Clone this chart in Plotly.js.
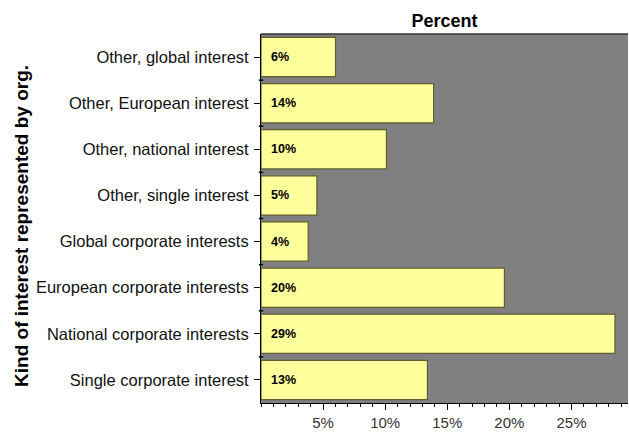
<!DOCTYPE html>
<html>
<head>
<meta charset="utf-8">
<script src="https://cdn.plot.ly/plotly-3.0.1.min.js"></script>
<style>html,body{margin:0;padding:0;background:#fff;}#chart{width:629px;height:432px;}</style>
</head>
<body>
<div id="chart"></div>
<script>
const categories = [
  "Single corporate interest",
  "National corporate interests",
  "European corporate interests",
  "Global corporate interests",
  "Other, single interest",
  "Other, national interest",
  "Other, European interest",
  "Other, global interest"
];
const values = [13.4, 28.5, 19.6, 3.8, 4.5, 10.1, 13.9, 6.0];
const valueLabels = ["13%", "29%", "20%", "4%", "5%", "10%", "14%", "6%"];
const xTickVals = [5, 10, 15, 20, 25];
const xTickText = ["5%", "10%", "15%", "20%", "25%"];

const font = "Liberation Sans, Arial, sans-serif";

const trace = {
  type: "bar",
  orientation: "h",
  y: categories,
  x: values,
  width: 0.85,
  marker: { color: "#FFFF9C", line: { color: "#5E5E2E", width: 1.2 } },
  hoverinfo: "skip",
  showlegend: false
};

const annotations = categories.map((c, i) => ({
  x: 0, y: c, xref: "x", yref: "y",
  text: "<b>" + valueLabels[i] + "</b>",
  showarrow: false, xanchor: "left", xshift: 8,
  font: { family: font, size: 12.5, color: "#000" }
}));
annotations.push({
  xref: "paper", yref: "paper", x: -0.651, y: 0.48,
  xanchor: "center", yanchor: "middle",
  text: "<b>Kind of interest represented by org.</b>",
  textangle: -90, showarrow: false,
  font: { family: font, size: 19, color: "#000" }
});

const layout = {
  width: 629, height: 432,
  margin: { l: 261, r: 1, t: 34, b: 29 },
  paper_bgcolor: "#fff",
  plot_bgcolor: "#808080",
  title: {
    text: "<b>Percent</b>",
    x: 0.5, xanchor: "center", xref: "paper",
    y: 0.953, yanchor: "middle",
    font: { family: font, size: 18, color: "#000" }
  },
  bargap: 0.15,
  xaxis: {
    range: [0, 29.55],
    tickvals: xTickVals, ticktext: xTickText,
    ticks: "outside", ticklen: 6, tickcolor: "#000", tickwidth: 1,
    showgrid: false, zeroline: false,
    showline: true, linecolor: "#000", linewidth: 1,
    tickfont: { family: font, size: 15, color: "#333" },
    minor: { dtick: 1, tick0: 0, ticks: "outside", ticklen: 3, tickcolor: "#000", showgrid: false },
    fixedrange: true
  },
  yaxis: {
    type: "category",
    categoryorder: "array", categoryarray: categories,
    ticks: "outside", ticklen: 6, tickcolor: "#000", tickwidth: 1,
    showgrid: false, zeroline: false,
    showline: true, linecolor: "#000", linewidth: 1,
    tickfont: { family: font, size: 16.5, color: "#111" },
    ticklabelstandoff: 2,
    fixedrange: true
  },
  shapes: [
    { type: "line", xref: "paper", yref: "paper", x0: 0, x1: 1, y0: 1, y1: 1, line: { color: "#333", width: 1.5 } }
  ].concat(categories.slice(0, -1).map((c, i) => ({
    type: "line", xref: "paper", yref: "y", x0: -0.006, x1: 0.006, y0: i + 0.5, y1: i + 0.5,
    line: { color: "#000", width: 1.5 }
  }))),
  annotations: annotations
};

Plotly.newPlot("chart", [trace], layout, { displayModeBar: false, staticPlot: true });
</script>
</body>
</html>
